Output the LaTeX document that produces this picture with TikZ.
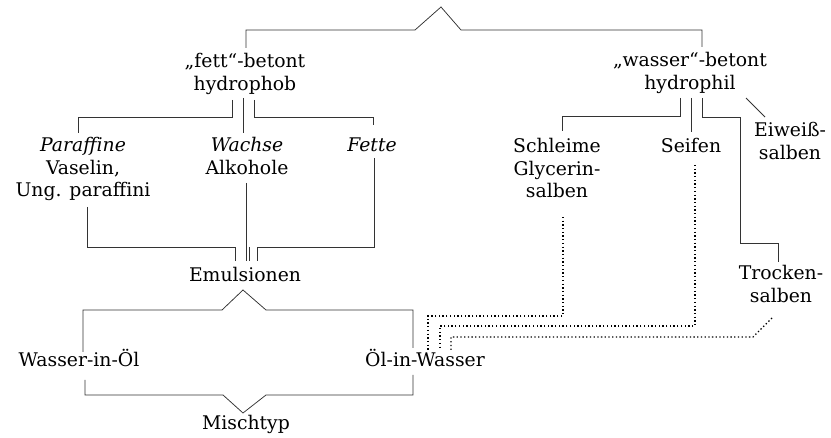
\documentclass[tikz,border=0pt]{standalone}
\usepackage{fontspec}
\setmainfont{DejaVu Serif}
\usetikzlibrary{calc}

\begin{document}
\begin{tikzpicture}[x=1pt,y=-1pt,
  salbe/.style={anchor=base,align=center,inner sep=0pt,font=\fontsize{18.8}{22.5}\selectfont},
  link/.style={draw=black!80,line width=0.75pt},
  weak link/.style={draw=black,line width=1.3pt,dash pattern=on 1.3pt off 2.4pt}]
  \useasboundingbox (0,0) rectangle (831,438);

  % classes of ointment bases (base = last line)
  \node[salbe] (fett) at (245,90.5) {„fett“-betont\\hydrophob};
  \node[salbe] (wasser) at (690,89.5) {„wasser“-betont\\hydrophil};
  \node[salbe] (par) at (83,197) {\textit{Paraffine}\\Vaselin,\\Ung. paraffini};
  \node[salbe] (wachs) at (247,174.5) {\textit{Wachse}\\Alkohole};
  \node[salbe] (fette) at (372,152) {\textit{Fette}};
  \node[salbe] (schleim) at (557,198) {Schleime\\Glycerin-\\salben};
  \node[salbe] (seifen) at (691,153) {Seifen};
  \node[salbe] (eiweiss) at (790,159.5) {Eiweiß-\\salben};
  \node[salbe] (trocken) at (781,302.5) {Trocken-\\salben};
  \node[salbe] (emul) at (245,282) {Emulsionen};
  \node[salbe] (wio) at (79,367) {Wasser-in-Öl};
  \node[salbe] (oiw) at (425,367) {Öl-in-Wasser};
  \node[salbe] (misch) at (246,430) {Mischtyp};

  % top bracket
  \draw[link] ($(fett.base)+(1,-42.5)$) |- (415,30) -- (441,7) -- (461,30)
    -| ($(wasser.base)+(12,-42.5)$);

  % fett side
  \draw[link] ($(fett.base)+(-13,9.5)$) |- ($(par.base)+(-5,-80)$) -- ($(par.base)+(-5,-64)$);
  \draw[link] ($(fett.base)+(-2,7.5)$) -- ($(wachs.base)+(-4,-41.5)$);
  \draw[link] ($(fett.base)+(9,9.5)$) |- ($(fette.base)+(1,-35)$) -- ($(fette.base)+(1,-27)$);
  \draw[link] ($(par.base)+(4,10)$) |- ($(emul.base)+(-10,-35)$) -- ($(emul.base)+(-10,-21)$);
  \draw[link] ($(wachs.base)+(-1,8.5)$) -- ($(emul.base)+(1,-21)$);
  \draw[link] ($(emul.base)+(4,-35)$) -- ($(emul.base)+(4,-21)$);
  \draw[link] ($(fette.base)+(2,6)$) |- ($(emul.base)+(12,-35)$) -- ($(emul.base)+(12,-21)$);

  % emulsion types
  \draw[link] ($(wio.base)+(4,-15)$) |- ($(emul.base)+(-23,28)$) -- ($(emul.base)+(-2,8)$)
    -- ($(emul.base)+(21,28)$) -| ($(oiw.base)+(-12,-19)$);
  \draw[link] ($(wio.base)+(6,13)$) |- ($(misch.base)+(-23,-35)$) -- ($(misch.base)+(-3,-17)$)
    -- ($(misch.base)+(20,-35)$) -| ($(oiw.base)+(-12,8)$);

  % wasser side
  \draw[link] ($(wasser.base)+(-10,8.5)$) |- ($(schleim.base)+(5,-82)$) -- ($(schleim.base)+(5,-67)$);
  \draw[link] ($(wasser.base)+(1,8.5)$) -- ($(seifen.base)+(0,-21)$);
  \draw[link] ($(wasser.base)+(12,8.5)$) |- ($(trocken.base)+(-41,-185.5)$) -- ($(trocken.base)+(-41,-59.5)$)
    -| ($(trocken.base)+(-3,-40.5)$);
  \draw[link] ($(wasser.base)+(56,8.5)$) -- ($(eiweiss.base)+(-25,-42.5)$);

  % dotted links to Oel-in-Wasser
  \draw[weak link] ($(schleim.base)+(6,19)$) |- ($(oiw.base)+(3,-51)$) -- ($(oiw.base)+(3,-17)$);
  \draw[weak link] ($(seifen.base)+(4,12)$) |- ($(oiw.base)+(15,-41)$) -- ($(oiw.base)+(15,-19)$);
  \draw[weak link] ($(trocken.base)+(-9,15.5)$) -- ($(trocken.base)+(-28,34.5)$) -| ($(oiw.base)+(26,-17)$);
\end{tikzpicture}
\end{document}
